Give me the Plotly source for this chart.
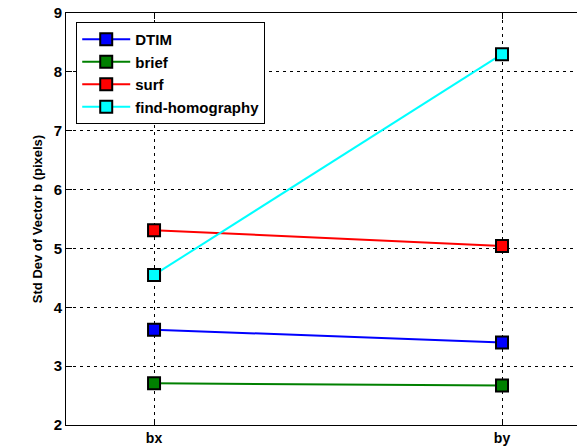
import plotly.graph_objects as go

# Standard deviation of vector b components for each method
components = ["bx", "by"]
positions = [1, 2]
dtim = [3.62, 3.40]
brief = [2.71, 2.67]
surf = [5.31, 5.04]
find_homography = [4.55, 8.30]

series = [
    ("DTIM", dtim, "#0000ff"),
    ("brief", brief, "#008000"),
    ("surf", surf, "#ff0000"),
    ("find-homography", find_homography, "#00ffff"),
]

fig = go.Figure()
for name, vals, color in series:
    fig.add_trace(go.Scatter(
        x=positions, y=vals, name=name, mode="lines+markers",
        line=dict(color=color, width=2),
        marker=dict(symbol="square", size=12, color=color,
                    line=dict(color="black", width=2)),
    ))

font = dict(family="Liberation Sans, Arial, sans-serif", color="black", weight="bold")

fig.update_layout(
    width=577, height=447,
    margin=dict(l=66, r=0, t=13, b=22),
    paper_bgcolor="white", plot_bgcolor="white",
    showlegend=True,
    legend=dict(
        x=0.02, y=0.978, xanchor="left", yanchor="top",
        bgcolor="white", bordercolor="black", borderwidth=1,
        font=dict(size=15, **font), itemwidth=48,
        tracegroupgap=0,
    ),
    font=font,
)

fig.update_xaxes(
    range=[0.747, 2.2155], tickvals=positions, ticktext=components,
    tickfont=dict(size=14, **font),
    showline=True, linecolor="black", linewidth=1, mirror="ticks",
    ticks="inside", ticklen=6, tickcolor="black",
    showgrid=True, gridcolor="black", gridwidth=1, griddash="3px,4px",
    zeroline=False,
)
fig.update_yaxes(
    range=[2, 9], dtick=1,
    tickfont=dict(size=15, **font),
    title=dict(text="Std Dev of Vector b (pixels)", font=dict(size=13, **font),
               standoff=8),
    showline=True, linecolor="black", linewidth=1,
    ticks="inside", ticklen=6, tickcolor="black",
    showgrid=True, gridcolor="black", gridwidth=1, griddash="3px,4px",
    zeroline=False,
)

fig.write_html("out.html")
